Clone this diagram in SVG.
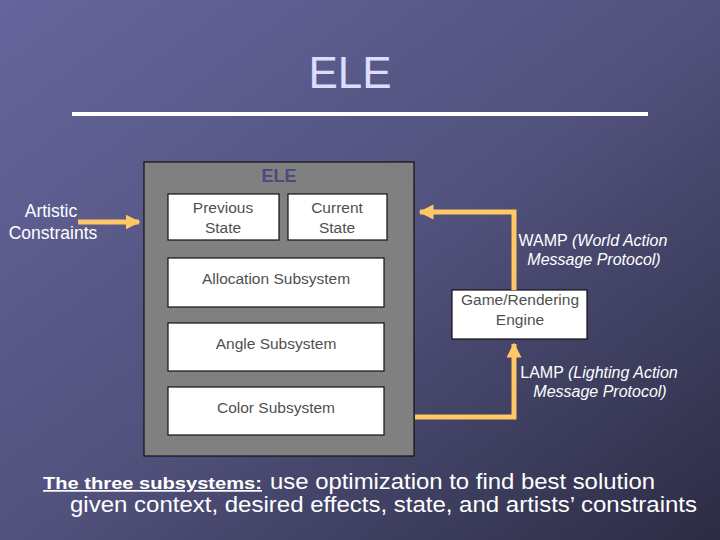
<svg xmlns="http://www.w3.org/2000/svg" width="720" height="540" viewBox="0 0 720 540">
<defs>
<linearGradient id="bg" x1="0" y1="0" x2="1" y2="1">
<stop offset="0" stop-color="#65659c"/>
<stop offset="0.5" stop-color="#52527e"/>
<stop offset="1" stop-color="#2c2c44"/>
</linearGradient>
<marker id="ah" viewBox="0 0 10 10" refX="9" refY="5" markerWidth="3" markerHeight="3.2" orient="auto" markerUnits="strokeWidth">
<path d="M0,0 L10,5 L0,10 z" fill="#ffc867"/>
</marker>
<style>
.box{fill:#ffffff;stroke:#111111;stroke-width:1.2}
.bt{font-family:"Liberation Sans",Arial,sans-serif;font-size:15.5px;fill:#505050;text-anchor:middle}
.wt{font-family:"Liberation Sans",Arial,sans-serif;fill:#ffffff}
.conn{fill:none;stroke:#ffc867;stroke-width:5}
</style>
</defs>
<rect width="720" height="540" fill="url(#bg)"/>
<text x="350" y="88" font-family="'Liberation Sans',Arial,sans-serif" font-size="44" fill="#dcdcff" text-anchor="middle">ELE</text>
<rect x="72" y="112" width="576" height="4" fill="#ffffff"/>

<g id="ele">
<rect x="144" y="162" width="270" height="294" fill="#808080" stroke="#111111" stroke-width="1.2"/>
<text x="279" y="182" font-family="'Liberation Sans',Arial,sans-serif" font-size="18" font-weight="bold" fill="#4b4b7c" text-anchor="middle">ELE</text>
</g>
<g id="prev"><rect class="box" x="168" y="194" width="111" height="46"/>
<text class="bt" x="223" y="213">Previous</text><text class="bt" x="223" y="233">State</text></g>
<g id="curr"><rect class="box" x="288" y="194" width="99" height="46"/>
<text class="bt" x="337" y="213">Current</text><text class="bt" x="337" y="233">State</text></g>
<g id="alloc"><rect class="box" x="168" y="258" width="216" height="49"/>
<text class="bt" x="276" y="284">Allocation Subsystem</text></g>
<g id="angle"><rect class="box" x="168" y="323" width="216" height="48"/>
<text class="bt" x="276" y="349">Angle Subsystem</text></g>
<g id="color"><rect class="box" x="168" y="387" width="216" height="48"/>
<text class="bt" x="276" y="413">Color Subsystem</text></g>
<g id="engine"><rect class="box" x="452" y="290" width="135" height="49"/>
<text class="bt" x="520" y="305">Game/Rendering</text><text class="bt" x="520" y="325">Engine</text></g>
<g id="artistic">
<text class="wt" x="51" y="217" font-size="17.5" text-anchor="middle">Artistic</text>
<text class="wt" x="53" y="239" font-size="17.5" text-anchor="middle">Constraints</text>
</g>
<g id="connectors">
<path class="conn" d="M78,222 L139,222" marker-end="url(#ah)"/>
<path class="conn" d="M514,290 L514,212 L420,212" marker-end="url(#ah)"/>
<path class="conn" d="M415,417 L514,417 L514,344" marker-end="url(#ah)"/>
</g>
<g id="labels">
<text class="wt" x="593" y="246" font-size="16" text-anchor="middle">WAMP <tspan font-style="italic">(World Action</tspan></text>
<text class="wt" x="594" y="265" font-size="16" text-anchor="middle" font-style="italic">Message Protocol)</text>
<text class="wt" x="599" y="378" font-size="16" text-anchor="middle">LAMP <tspan font-style="italic">(Lighting Action</tspan></text>
<text class="wt" x="600" y="397" font-size="16" text-anchor="middle" font-style="italic">Message Protocol)</text>
</g>
<text class="wt" x="43" y="489" font-size="17" font-weight="bold" text-decoration="underline" textLength="219" lengthAdjust="spacingAndGlyphs">The three subsystems:</text>
<text class="wt" x="270" y="489" font-size="22" textLength="385" lengthAdjust="spacingAndGlyphs">use optimization to find best solution</text>
<text class="wt" x="70" y="512" font-size="22" textLength="627" lengthAdjust="spacingAndGlyphs">given context, desired effects, state, and artists’ constraints</text>
</svg>
